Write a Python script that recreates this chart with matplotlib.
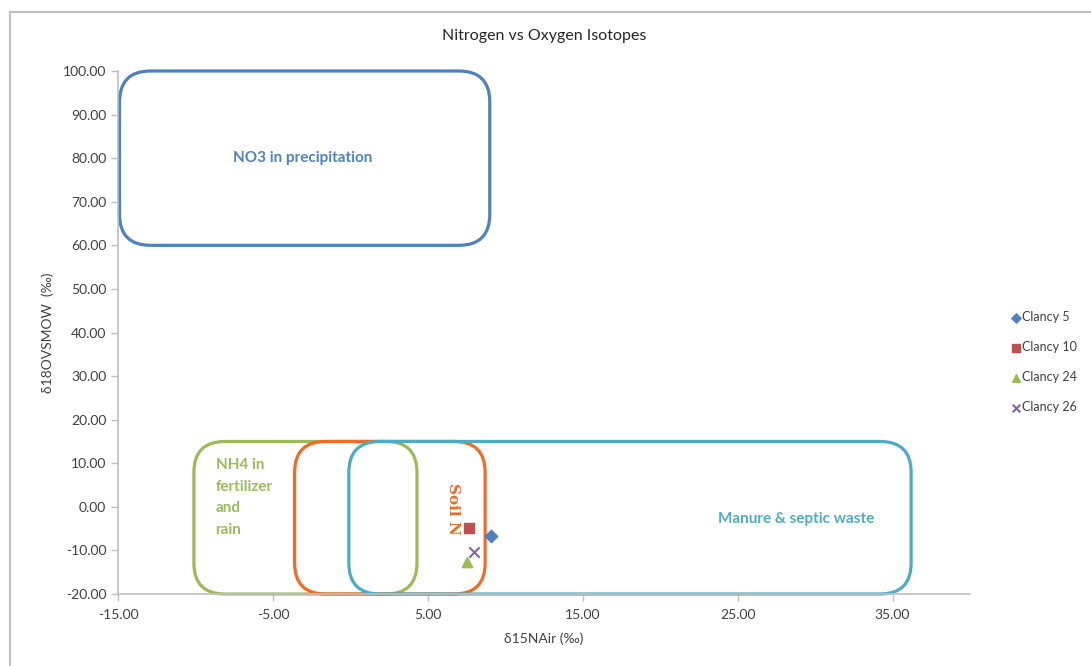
import matplotlib
matplotlib.use("Agg")
import matplotlib.pyplot as plt
from matplotlib.patches import FancyBboxPatch, Rectangle
from matplotlib.ticker import FormatStrFormatter

plt.rcParams['font.family'] = ['Lato', 'DejaVu Sans']

# Data
series_names = ["Clancy 5", "Clancy 10", "Clancy 24", "Clancy 26"]
d15N = [9.1, 7.65, 7.5, 8.0]
d18O = [-6.7, -4.9, -12.7, -10.4]
markers = ["D", "s", "^", "x"]
colors = ["#4F81BD", "#C0504D", "#9BBB59", "#8064A2"]

# Source regions (x0, x1, y0, y1)
region_names = ["NO3 in precipitation", "NH4 in\nfertilizer\nand\nrain", "Soil N", "Manure & septic waste"]
region_boxes = [(-14.9, 9.0, 60, 100), (-10.1, 4.3, -20, 15), (-3.6, 8.7, -20, 15), (-0.1, 36.2, -20, 15)]
region_colors = ["#4F81BD", "#9BBB59", "#F46A22", "#4BACC6"]

x_ticks = [-15, -5, 5, 15, 25, 35]
y_ticks = list(range(-20, 101, 10))

W, H = 1091, 666
fig = plt.figure(figsize=(W/100, H/100), dpi=100)
# outer chart frame
fig.patches.append(Rectangle((10/W, -0.1), 1.2, 1 - 12/H + 0.1, transform=fig.transFigure,
                             fill=False, edgecolor="#BFBFBF", linewidth=1.5))
ax = fig.add_axes([118/W, 1 - 594/H, (970-118)/W, (594-71)/H])
ax.set_xlim(-15, 40)
ax.set_ylim(-20, 100)

xpx = (970-118)/55.0
ypx = (594-71)/120.0
aspect = xpx/ypx
for (x0, x1, y0, y1), c in zip(region_boxes, region_colors):
    p = FancyBboxPatch((x0, y0), x1-x0, y1-y0,
                       boxstyle="round,pad=0,rounding_size=2.0",
                       mutation_aspect=aspect, fill=False,
                       edgecolor=c, linewidth=2.3, zorder=2, clip_on=False)
    ax.add_patch(p)

ax.text(-3.1, 80, region_names[0], color=region_colors[0], fontsize=11, fontweight='bold',
        ha='center', va='center')
ax.text(-8.7, 11.3, region_names[1], color=region_colors[1], fontsize=11, fontweight='bold',
        ha='left', va='top', linespacing=1.72)
ax.text(6.6, -0.5, region_names[2], color=region_colors[2], fontsize=11, fontweight='bold',
        family='DejaVu Serif', rotation=270, ha='center', va='center')
ax.text(28.8, -2.8, region_names[3], color=region_colors[3], fontsize=11, fontweight='bold',
        ha='center', va='center')

for n, x, y, m, c in zip(series_names, d15N, d18O, markers, colors):
    if m == "x":
        ax.scatter([x], [y], marker=m, s=55, color=c, linewidths=1.5, label=n, zorder=4)
    else:
        ax.scatter([x], [y], marker=m, s=55 if m != "D" else 40, color=c, label=n, zorder=4)

ax.set_xticks(x_ticks)
ax.set_yticks(y_ticks)
ax.xaxis.set_major_formatter(FormatStrFormatter('%.2f'))
ax.yaxis.set_major_formatter(FormatStrFormatter('%.2f'))
for s in ['top', 'right']:
    ax.spines[s].set_visible(False)
for s in ['left', 'bottom']:
    ax.spines[s].set_color('#BFBFBF')
    ax.spines[s].set_linewidth(1.2)
ax.tick_params(axis='both', colors='#BFBFBF', labelcolor='#404040', labelsize=10, length=5, width=1)
ax.tick_params(axis='x', pad=6)

ax.set_title("Nitrogen vs Oxygen Isotopes", fontsize=11.5, color='#262626', pad=22)
ax.set_xlabel("δ15NAir (‰)", fontsize=10, color='#404040', labelpad=8)
ax.set_ylabel("δ18OVSMOW  (‰)", fontsize=10, color='#404040', labelpad=6)

leg = fig.legend(loc='center left', bbox_to_anchor=(1005/W, 1 - 362/H), frameon=False,
                 fontsize=9, labelspacing=1.45, handletextpad=0.0, handlelength=1.0,
                 scatterpoints=1, markerscale=0.75, borderaxespad=0)
for t in leg.get_texts():
    t.set_color('#404040')

fig.savefig("out.png", dpi=100)
